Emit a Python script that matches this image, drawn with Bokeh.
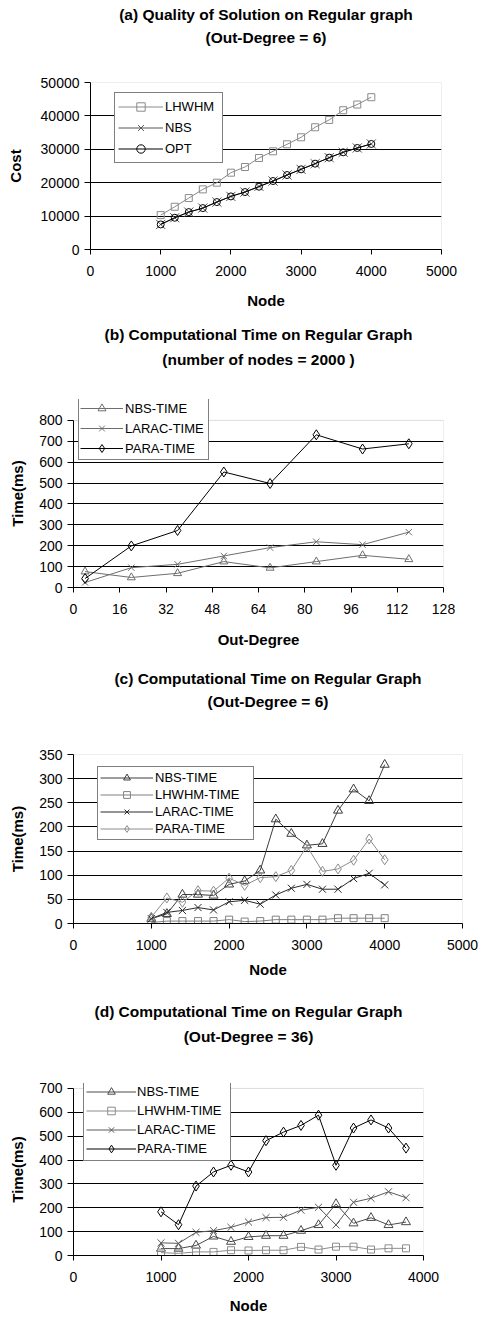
from bokeh.plotting import figure
from bokeh.models import Range1d, FixedTicker, Legend, LegendItem, Title, BoxAnnotation
from bokeh.embed import file_html
from bokeh.resources import INLINE

FONT = "Liberation Sans"

# ---------------- data ----------------
# (a) Quality of Solution on Regular graph (Out-Degree = 6)
a_nodes = [1000, 1200, 1400, 1600, 1800, 2000, 2200, 2400, 2600, 2800, 3000, 3200, 3400, 3600, 3800, 4000]
a_lhwhm = [10300, 12800, 15400, 18000, 20000, 23000, 24700, 27400, 29400, 31500, 33600, 36600, 38800, 41700, 43400, 45600]
a_nbs = [7500, 9500, 11200, 12400, 14200, 15900, 17200, 18900, 20500, 22300, 24000, 25700, 27500, 29100, 30400, 31600]
a_opt = [7500, 9500, 11200, 12400, 14200, 15900, 17200, 18800, 20500, 22300, 24000, 25700, 27500, 29100, 30400, 31600]
a_xticks = [0, 1000, 2000, 3000, 4000, 5000]
a_yticks = [0, 10000, 20000, 30000, 40000, 50000]

# (b) Computational Time on Regular Graph (number of nodes = 2000)
b_degree = [4, 20, 36, 52, 68, 84, 100, 116]
b_nbs = [76, 48, 68, 124, 94, 124, 154, 135]
b_larac = [24, 95, 111, 151, 191, 219, 205, 265]
b_para = [43, 199, 273, 553, 498, 731, 663, 688]
b_xticks = [0, 16, 32, 48, 64, 80, 96, 112, 128]
b_yticks = [0, 100, 200, 300, 400, 500, 600, 700, 800]

# (c) Computational Time on Regular Graph (Out-Degree = 6)
c_nodes = [1000, 1200, 1400, 1600, 1800, 2000, 2200, 2400, 2600, 2800, 3000, 3200, 3400, 3600, 3800, 4000]
c_nbs = [10, 20, 60, 60, 58, 81, 88, 110, 216, 186, 162, 165, 234, 278, 254, 329]
c_lhwhm = [2, 5, 5, 5, 5, 8, 4, 5, 8, 8, 8, 8, 11, 11, 11, 11]
c_larac = [10, 23, 27, 33, 28, 45, 48, 40, 59, 73, 81, 71, 71, 93, 104, 80]
c_para = [13, 53, 44, 68, 67, 94, 79, 95, 97, 110, 160, 108, 113, 131, 175, 132]
c_xticks = [0, 1000, 2000, 3000, 4000, 5000]
c_yticks = [0, 50, 100, 150, 200, 250, 300, 350]

# (d) Computational Time on Regular Graph (Out-Degree = 36)
d_nodes = [1000, 1200, 1400, 1600, 1800, 2000, 2200, 2400, 2600, 2800, 3000, 3200, 3400, 3600, 3800]
d_nbs = [29, 29, 42, 80, 58, 78, 83, 83, 104, 128, 216, 135, 158, 128, 140]
d_lhwhm = [12, 9, 15, 15, 22, 21, 22, 22, 36, 25, 37, 37, 25, 30, 30]
d_larac = [53, 51, 97, 104, 118, 140, 159, 160, 190, 202, 128, 223, 240, 267, 242]
d_para = [183, 129, 291, 350, 378, 350, 481, 517, 545, 588, 378, 534, 568, 534, 450]
d_xticks = [0, 1000, 2000, 3000, 4000]
d_yticks = [0, 100, 200, 300, 400, 500, 600, 700]

W = 481
TH = 17.5  # approx. height of a bold title line
YH = 17.0  # approx. height of the bold y label


def panel(height, borders, ext, xticks, yticks, t1, t2, g1, g2,
          xlabel, ylabel, ylab_gap, ylab_off, series, leg, x_ls, axis_w):
    left, right, top, bottom = borders
    x0, x1 = xticks[0], xticks[-1]
    y0, y1 = yticks[0], yticks[-1]
    fh = height - top - bottom
    ytop = y0 + (y1 - y0) * fh / (fh - ext)
    p = figure(width=W, height=height, title=None, toolbar_location=None,
               output_backend="svg", min_border_left=left, min_border_right=right,
               min_border_top=top, min_border_bottom=bottom,
               x_range=Range1d(x0, x1), y_range=Range1d(y0, ytop))
    p.background_fill_color = "white"
    p.border_fill_color = "white"
    p.outline_line_color = None

    # titles: spacer, second line, first line (stacked outward from the frame)
    sp = g2 - TH / 2
    st1 = 2 * (g1 - sp - 1.5 * TH)
    p.add_layout(Title(text=" ", text_font_size="1px", standoff=sp - 1), "above")
    p.add_layout(Title(text=t2, align="center", text_font=FONT, text_font_size="15.5px",
                       text_font_style="bold", text_color="black", standoff=0), "above")
    p.add_layout(Title(text=t1, align="center", text_font=FONT, text_font_size="15.5px",
                       text_font_style="bold", text_color="black", standoff=st1), "above")

    for ax, ticks in ((p.xaxis, xticks), (p.yaxis, yticks)):
        ax.ticker = FixedTicker(ticks=ticks)
        ax.axis_line_color = "black"
        ax.axis_line_width = 1
        ax.major_tick_line_color = "black"
        ax.major_tick_in = 0
        ax.minor_tick_in = 0
        ax.minor_tick_out = 0
        ax.major_label_text_font = FONT
        ax.major_label_text_font_size = "14px"
        ax.major_label_text_color = "black"
    p.yaxis.bounds = (y0, y1)
    p.xaxis.major_tick_out = 5
    p.yaxis.major_tick_out = 6
    p.xaxis.major_label_standoff = 11
    p.yaxis.major_label_standoff = 5
    p.xaxis.axis_label = xlabel
    p.xaxis.axis_label_text_font = FONT
    p.xaxis.axis_label_text_font_size = "15px"
    p.xaxis.axis_label_text_font_style = "bold"
    p.xaxis.axis_label_text_color = "black"
    p.xaxis.axis_label_standoff = x_ls

    # y label: spacer then the label itself (stacked outward from the axis)
    ysp = ylab_gap - axis_w - YH / 2 - 4
    p.add_layout(Title(text=" ", text_font_size="1px", standoff=ysp - 1), "left")
    p.add_layout(Title(text=ylabel, align="center", text_font=FONT, text_font_size="15px",
                       text_font_style="bold", text_color="black", standoff=0,
                       offset=ylab_off), "left")

    p.xgrid.visible = False
    p.ygrid.ticker = FixedTicker(ticks=yticks[1:-1])
    p.ygrid.grid_line_color = "black"
    p.ygrid.grid_line_width = 1

    p.add_layout(BoxAnnotation(left=x0, right=x1, bottom=y0, top=y1,
                               fill_alpha=0, line_color="#8c8c8c", line_width=1,
                               level="underlay"))

    items = []
    for label, xs, ys, color, marker, size in series:
        lr = p.line(xs, ys, line_color=color, line_width=1)
        sr = p.scatter(xs, ys, marker=marker, size=size,
                       line_color=color, line_width=1, fill_color=None)
        items.append(LegendItem(label=label, renderers=[lr, sr]))

    loc, pad, gw, gh, lst, lw, fs = leg
    legend = Legend(items=items, location=loc, padding=pad, spacing=0,
                    margin=0, glyph_width=gw, glyph_height=gh, label_height=gh,
                    label_standoff=lst, label_width=lw,
                    label_text_font=FONT, label_text_font_size=fs,
                    label_text_color="black",
                    border_line_color="black", border_line_width=1,
                    background_fill_color="white", background_fill_alpha=1.0)
    p.add_layout(legend)
    return p


pa = panel(318, (90, 40, 81, 69), 0, a_xticks, a_yticks,
           "(a) Quality of Solution on Regular graph", "(Out-Degree = 6)", 64.7, 43.7,
           "Node", "Cost", 73.3, 0,
           [("LHWHM", a_nodes, a_lhwhm, "#8a8a8a", "square", 7),
            ("NBS", a_nodes, a_nbs, "#555555", "x", 13),
            ("OPT", a_nodes, a_opt, "#000000", "circle", 7)],
           ((24, 86), 3, 45, 21, 2, 54, "13px"), 13, 49.4)

pb = panel(332, (73, 38, 80, 63), 21, b_xticks, b_yticks,
           "(b) Computational Time on Regular Graph", "(number of nodes = 2000 )", 62, 39,
           "Out-Degree", "Time(ms)", 56, -25,
           [("NBS-TIME", b_degree, b_nbs, "#6e6e6e", "triangle", 8),
            ("LARAC-TIME", b_degree, b_larac, "#6e6e6e", "x", 9),
            ("PARA-TIME", b_degree, b_para, "#000000", "diamond", 10)],
           ((5, 127), 1, 43, 20, 2, 82, "13px"), 14, 34.4)

pc = panel(335, (73, 19, 104, 62), 0, c_xticks, c_yticks,
           "(c) Computational Time on Regular Graph", "(Out-Degree = 6)", 73, 52,
           "Node", "Time(ms)", 56, -2,
           [("NBS-TIME", c_nodes, c_nbs, "#3c3c3c", "triangle", 9),
            ("LHWHM-TIME", c_nodes, c_lhwhm, "#808080", "square", 7),
            ("LARAC-TIME", c_nodes, c_larac, "#2a2a2a", "x", 10),
            ("PARA-TIME", c_nodes, c_para, "#8c8c8c", "diamond", 10)],
           ((24, 83), 2, 53, 17, 2, 96, "13px"), 8, 34.4)

pd_ = panel(331, (73, 58, 98, 59), 5, d_xticks, d_yticks,
            "(d) Computational Time on Regular Graph", "(Out-Degree = 36)", 69, 46,
            "Node", "Time(ms)", 56, -5,
            [("NBS-TIME", d_nodes, d_nbs, "#4a4a4a", "triangle", 9),
             ("LHWHM-TIME", d_nodes, d_lhwhm, "#8c8c8c", "square", 7),
             ("LARAC-TIME", d_nodes, d_larac, "#5a5a5a", "x", 10),
             ("PARA-TIME", d_nodes, d_para, "#000000", "diamond", 10)],
            ((10, 94), 2, 50, 19, 1, 91, "13px"), 12, 34.4)

open("out.html", "w").write(file_html([pa, pb, pc, pd_], INLINE))
